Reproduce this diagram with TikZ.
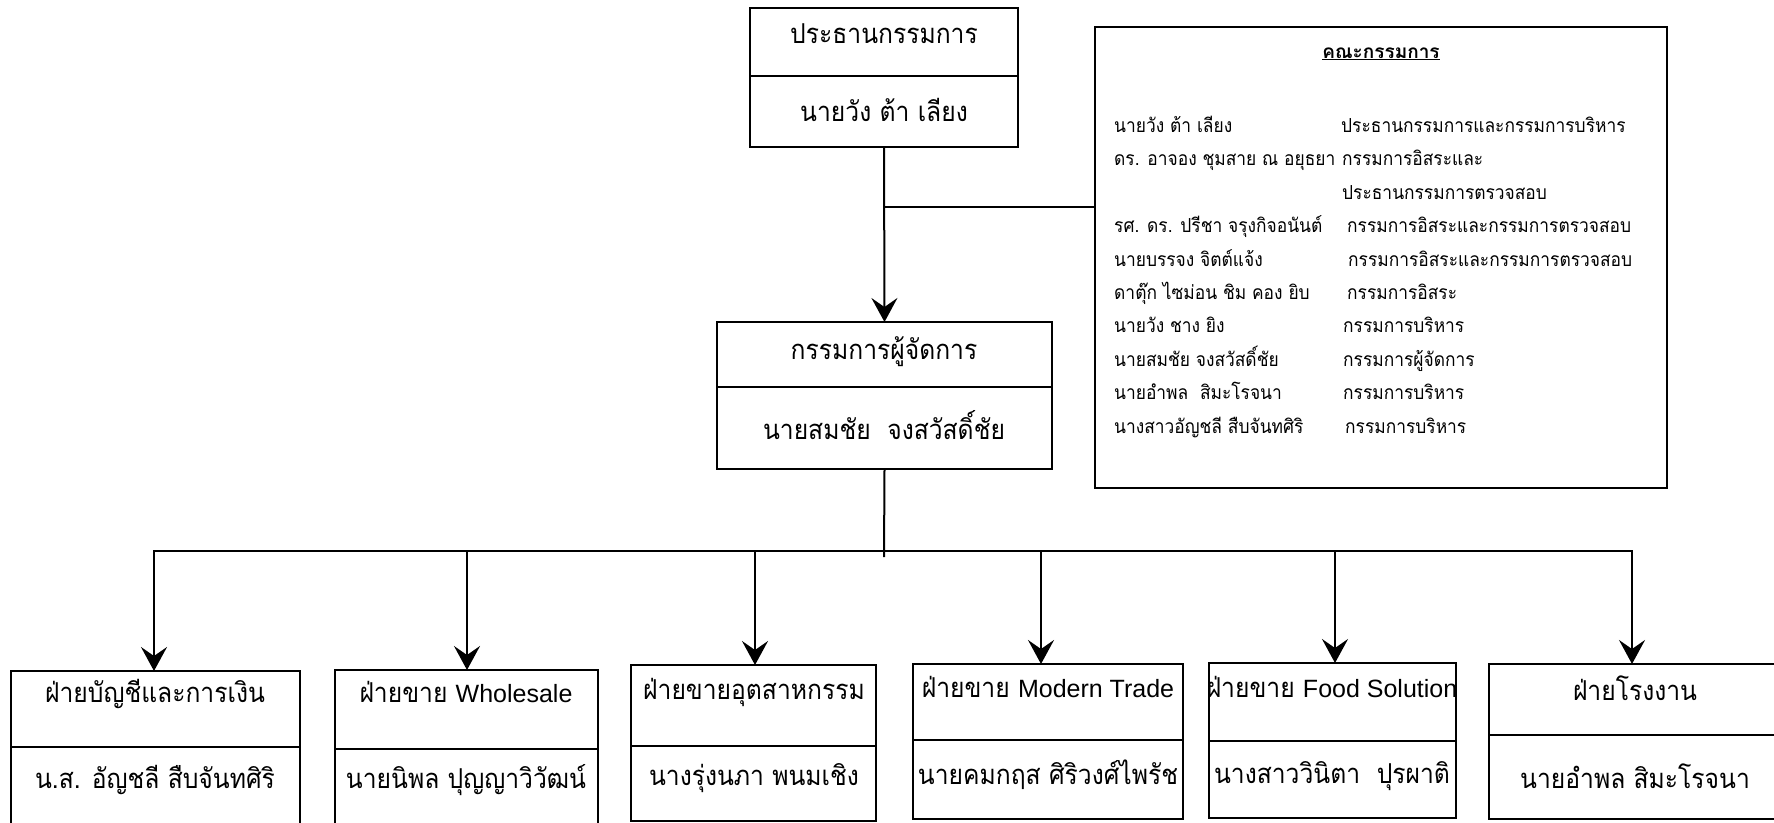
\documentclass[tikz,border=0pt]{standalone}
\usepackage{fontspec}
\newfontfamily\thaifont[Script=Thai, FakeStretch=0.9]{Loma}
\newfontfamily\thaiplain[Script=Thai]{Loma}
\newfontfamily\latinfont{Liberation Sans}
\newcommand\latword[1]{{\latinfont\fontsize{25}{30}\selectfont #1}}
\usetikzlibrary{arrows.meta,positioning,fit}
\begin{document}
\begin{tikzpicture}[x=1pt,y=-1pt,
  orgbox/.style={draw, line width=2.6pt, inner sep=0pt, outer sep=0pt},
  divline/.style={line width=2.6pt},
  connline/.style={line width=2pt},
  arrline/.style={connline, -{Stealth[length=24pt,width=26pt,inset=9pt]}},
  hdtext/.style={font=\thaifont\fontsize{27.4}{32}\selectfont, inner sep=0pt, text height=21pt, text depth=6pt},
  cmtext/.style={font=\thaifont\fontsize{19.3}{23}\selectfont, inner sep=0pt, anchor=west, text height=14pt, text depth=4pt},
]
\useasboundingbox (0,0) rectangle (1774,822);

% chairman
\node[orgbox, fit={(750,8) (1018,147)}] (chair) {};
\draw[divline] (750,76) -- (1018,76);
\node[hdtext] (chairh) at (884,36) {ประธานกรรมการ};
\node[hdtext] (chairp) at (884,114) {นายวัง ต้า เลียง};

% managing director
\node[orgbox, fit={(717,322) (1052,469)}] (md) {};
\draw[divline] (717,387) -- (1052,387);
\node[hdtext] (mdh) at (884,352) {กรรมการผู้จัดการ};
\node[hdtext] (mdp) at (884,432) {นายสมชัย\ \ จงสวัสดิ์ชัย};

% committee
\node[orgbox, line width=2.2pt, fit={(1095,27) (1667,488)}] (comm) {};
\node[cmtext, anchor=center, font=\thaiplain\bfseries\fontsize{19}{23}\selectfont] (commt) at (1381,53) {\underline{คณะกรรมการ}};
\node[cmtext] (c1a) at (1114,127) {นายวัง ต้า เลียง};
\node[cmtext] (c1b) at (1341,127) {ประธานกรรมการและกรรมการบริหาร};
\node[cmtext] (c2a) at (1114,160) {ดร. อาจอง ชุมสาย ณ อยุธยา};
\node[cmtext] (c2b) at (1342,160) {กรรมการอิสระและ};
\node[cmtext] (c3b) at (1342,194) {ประธานกรรมการตรวจสอบ};
\node[cmtext] (c4a) at (1114,227) {รศ. ดร. ปรีชา จรุงกิจอนันต์};
\node[cmtext] (c4b) at (1347,227) {กรรมการอิสระและกรรมการตรวจสอบ};
\node[cmtext] (c5a) at (1114,261) {นายบรรจง จิตต์แจ้ง};
\node[cmtext] (c5b) at (1348,261) {กรรมการอิสระและกรรมการตรวจสอบ};
\node[cmtext] (c6a) at (1114,294) {ดาตุ๊ก ไซม่อน ชิม คอง ยิบ};
\node[cmtext] (c6b) at (1347,294) {กรรมการอิสระ};
\node[cmtext] (c7a) at (1114,327) {นายวัง ชาง ยิง};
\node[cmtext] (c7b) at (1343,327) {กรรมการบริหาร};
\node[cmtext] (c8a) at (1114,361) {นายสมชัย จงสวัสดิ์ชัย};
\node[cmtext] (c8b) at (1343,361) {กรรมการผู้จัดการ};
\node[cmtext] (c9a) at (1114,394) {นายอำพล\ \ สิมะโรจนา};
\node[cmtext] (c9b) at (1343,394) {กรรมการบริหาร};
\node[cmtext] (c10a) at (1114,428) {นางสาวอัญชลี สืบจันทศิริ};
\node[cmtext] (c10b) at (1345,428) {กรรมการบริหาร};

% departments
\node[orgbox, fit={(11,671) (300,826)}] (b1) {};
\draw[divline] (11,747) -- (300,747);
\node[hdtext] (b1h) at (155,695) {ฝ่ายบัญชีและการเงิน};
\node[hdtext] (b1p) at (155,781) {น.ส. อัญชลี สืบจันทศิริ};

\node[orgbox, fit={(335,670) (598,826)}] (b2) {};
\draw[divline] (335,749) -- (598,749);
\node[hdtext] (b2h) at (466,695) {ฝ่ายขาย \latword{Wholesale}};
\node[hdtext] (b2p) at (466,781) {นายนิพล ปุญญาวิวัฒน์};

\node[orgbox, fit={(631,665) (876,821)}] (b3) {};
\draw[divline] (631,746) -- (876,746);
\node[hdtext] (b3h) at (754,692) {ฝ่ายขายอุตสาหกรรม};
\node[hdtext] (b3p) at (754,778) {นางรุ่งนภา พนมเชิง};

\node[orgbox, fit={(913,664) (1183,819)}] (b4) {};
\draw[divline] (913,740) -- (1183,740);
\node[hdtext] (b4h) at (1048,690) {ฝ่ายขาย \latword{Modern Trade}};
\node[hdtext] (b4p) at (1048,777) {นายคมกฤส ศิริวงศ์ไพรัช};

\node[orgbox, fit={(1209,663) (1456,818)}] (b5) {};
\draw[divline] (1209,741) -- (1456,741);
\node[hdtext] (b5h) at (1332,690) {ฝ่ายขาย \latword{Food Solution}};
\node[hdtext] (b5p) at (1332,776) {นางสาววินิตา\ \ ปุรผาติ};

\node[orgbox, fit={(1489,664) (1781,819)}] (b6) {};
\draw[divline] (1489,735) -- (1781,735);
\node[hdtext] (b6h) at (1635,693) {ฝ่ายโรงงาน};
\node[hdtext] (b6p) at (1635,781) {นายอำพล สิมะโรจนา};

% connectors
\draw[arrline] (chair.south) -- (md.north);
\coordinate (br) at (884,207);
\draw[connline] (br) -- (br -| comm.west);
\coordinate (mdd) at (884,557);
\draw[connline] (md.south) -- (mdd);
\coordinate (hl) at (153,551);
\coordinate (hr) at (1633,551);
\draw[connline] (hl) -- (hr);
\coordinate (d1) at (154,551);
\coordinate (d2) at (467,551);
\coordinate (d3) at (755,551);
\coordinate (d4) at (1041,551);
\coordinate (d5) at (1335,551);
\coordinate (d6) at (1632,551);
\draw[arrline] (d1) -- (d1 |- b1.north);
\draw[arrline] (d2) -- (d2 |- b2.north);
\draw[arrline] (d3) -- (d3 |- b3.north);
\draw[arrline] (d4) -- (d4 |- b4.north);
\draw[arrline] (d5) -- (d5 |- b5.north);
\draw[arrline] (d6) -- (d6 |- b6.north);
\end{tikzpicture}
\end{document}
